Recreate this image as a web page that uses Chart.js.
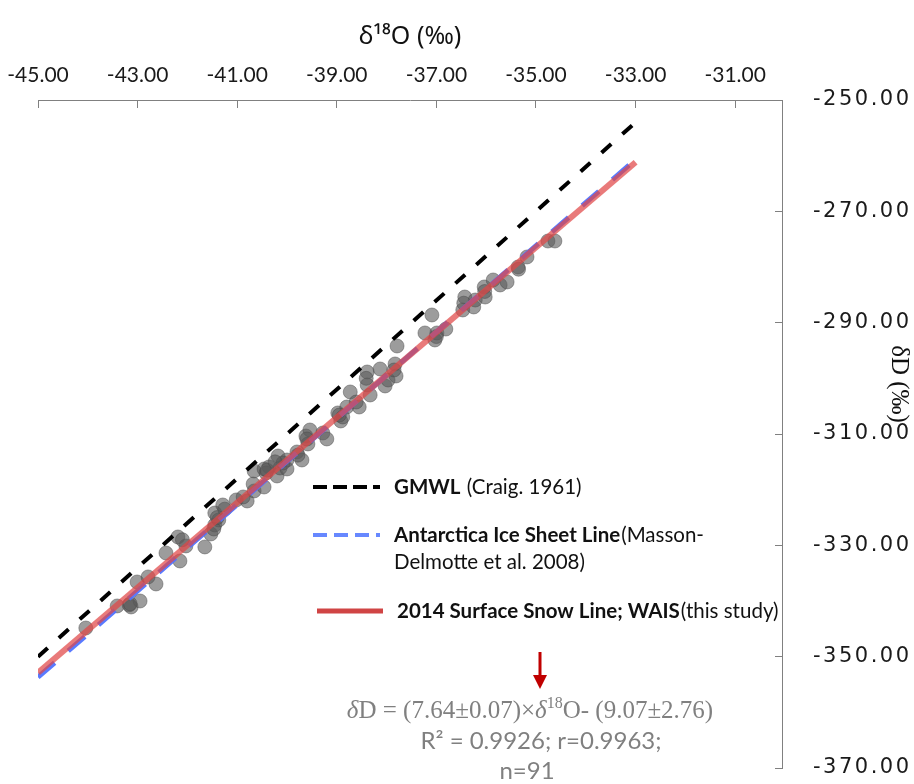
<!DOCTYPE html>
<html>
<head>
<meta charset="utf-8">
<script src="https://cdn.jsdelivr.net/npm/chart.js@4/dist/chart.umd.min.js"></script>
<style>
  html, body { margin: 0; padding: 0; background: #fff; overflow: hidden; }
  #wrap { width: 914px; height: 784px; }
</style>
</head>
<body>
<div id="wrap"><canvas id="c" width="914" height="784"></canvas></div>
<script>
// δ18O / δD of 2014 surface snow samples (‰)
const sampleD18O = [
  -44.04, -43.41, -43.17, -43.13, -42.95, -43.01, -42.79, -42.63, -42.43, -42.19,
  -42.03, -42.15, -41.65, -41.53, -41.45, -41.45, -41.37, -41.47, -41.29, -41.02,
  -40.80, -40.88, -40.66, -40.68, -40.46, -40.66, -40.46, -40.36, -40.42, -40.18,
  -40.20, -40.14, -40.00, -40.00, -40.08, -39.80, -39.70, -39.62, -39.58, -39.54,
  -39.28, -39.20, -38.98, -38.92, -38.80, -38.88, -38.73, -38.55, -38.61, -38.39,
  -38.39, -38.33, -38.13, -38.03, -37.97, -37.83, -37.81, -37.79, -37.23, -37.09,
  -37.03, -36.99, -36.81, -36.43, -36.47, -36.25, -36.22, -36.04, -36.02, -35.86,
  -35.72, -35.58, -35.36, -35.18, -34.76, -34.62, -43.15, -42.10, -41.40, -41.25,
  -40.40, -40.24, -39.78, -39.60, -38.95, -38.41, -37.85, -37.00, -36.45, -36.03,
  -35.35
];
const sampleDD = [
  -344.85, -340.89, -340.71, -341.07, -340.00, -336.58, -335.68, -336.94, -331.37, -328.50,
  -330.11, -332.81, -330.29, -327.96, -326.34, -324.19, -325.44, -327.06, -322.75, -321.85,
  -322.03, -321.31, -320.23, -318.98, -319.52, -316.64, -316.28, -315.92, -317.00, -313.95,
  -317.54, -316.10, -316.28, -314.67, -315.21, -313.23, -314.67, -310.36, -311.79, -309.28,
  -309.82, -310.89, -306.22, -307.66, -305.15, -306.94, -302.45, -305.15, -304.25, -298.86,
  -301.19, -302.99, -298.32, -301.37, -300.30, -297.42, -299.58, -294.19, -291.85, -288.62,
  -293.11, -291.85, -291.14, -285.39, -287.72, -287.18, -285.93, -283.59, -285.39, -282.33,
  -283.23, -282.69, -280.00, -278.20, -275.33, -275.33, -340.50, -329.00, -325.00, -323.50,
  -316.50, -315.00, -313.80, -310.90, -306.60, -300.00, -298.50, -292.50, -286.50, -284.40,
  -280.40
];

// Reference lines, end points at δ18O = -45 and -33
const lineD18O = [-45, -33];
const gmwlDD = [-350.00, -254.00];        // δD = 8 δ18O + 10
const antarcticaDD = [-353.68, -260.68];  // δD = 7.75 δ18O - 4.93
const wais2014DD = [-352.87, -261.19];    // δD = 7.64 δ18O - 9.07

// Axis ticks
const xTicks = [-45, -43, -41, -39, -37, -35, -33, -31];
const xTickLabels = ['-45.00', '-43.00', '-41.00', '-39.00', '-37.00', '-35.00', '-33.00', '-31.00'];
const yTicks = [-370, -350, -330, -310, -290, -270, -250];
const yTickLabels = ['-370.00', '-350.00', '-330.00', '-310.00', '-290.00', '-270.00', '-250.00'];

const toPoints = (xs, ys) => xs.map((x, i) => ({ x, y: ys[i] }));

// Legend and equation annotation drawn on top of the plot
const annotations = {
  id: 'annotations',
  afterDraw(chart) {
    const ctx = chart.ctx;
    ctx.save();
    ctx.textBaseline = 'middle';
    ctx.textAlign = 'left';

    const item = (y, x0, x1, color, width, dash, boldText, plainText, extraLine) => {
      ctx.beginPath();
      ctx.setLineDash(dash);
      ctx.strokeStyle = color;
      ctx.lineWidth = width;
      ctx.moveTo(x0, y);
      ctx.lineTo(x1, y);
      ctx.stroke();
      ctx.setLineDash([]);
      ctx.fillStyle = '#111';
      ctx.font = 'bold 20.5px Lato';
      const tx = x1 + 14;
      ctx.fillText(boldText, tx, y);
      const w = ctx.measureText(boldText).width;
      ctx.font = '20.5px Lato';
      ctx.fillText(plainText, tx + w + 1, y);
      if (extraLine) ctx.fillText(extraLine, tx, y + 27);
    };
    item(487, 313, 380, '#000', 4, [14, 6], 'GMWL', ' (Craig. 1961)');
    item(535, 313, 380, 'rgba(95,130,255,0.95)', 4, [14, 7], 'Antarctica Ice Sheet Line', '(Masson-', 'Delmotte et al. 2008)');
    item(611, 317, 383, '#d04444', 5, [], '2014 Surface Snow Line; WAIS', '(this study)');

    // arrow pointing to the fitted line
    ctx.strokeStyle = '#c00000';
    ctx.fillStyle = '#c00000';
    ctx.lineWidth = 3;
    ctx.beginPath();
    ctx.moveTo(540, 652);
    ctx.lineTo(540, 677);
    ctx.stroke();
    ctx.beginPath();
    ctx.moveTo(533, 675);
    ctx.lineTo(547, 675);
    ctx.lineTo(540, 689);
    ctx.closePath();
    ctx.fill();

    // regression equation
    ctx.fillStyle = '#808080';
    const segs = [
      ['italic 25px "Liberation Serif"', 'δ', 0],
      ['25px "Liberation Serif"', 'D = (7.64±0.07)×', 0],
      ['italic 25px "Liberation Serif"', 'δ', 0],
      ['16px "Liberation Serif"', '18', -7],
      ['25px "Liberation Serif"', 'O- (9.07±2.76)', 0]
    ];
    let total = 0;
    segs.forEach(s => { ctx.font = s[0]; total += ctx.measureText(s[1]).width; });
    let x = 530 - total / 2;
    segs.forEach(s => {
      ctx.font = s[0];
      ctx.fillText(s[1], x, 711 + s[2]);
      x += ctx.measureText(s[1]).width;
    });
    ctx.textAlign = 'center';
    ctx.font = '24px Lato';
    ctx.fillText('R² = 0.9926; r=0.9963;', 541, 741);
    ctx.fillText('n=91', 527, 771);
    ctx.restore();
  }
};

const lineStyle = { showLine: true, pointRadius: 0, fill: false, tension: 0 };

new Chart(document.getElementById('c'), {
  type: 'scatter',
  data: {
    datasets: [
      {
        label: 'Surface snow samples',
        data: toPoints(sampleD18O, sampleDD),
        pointRadius: 7,
        pointHoverRadius: 7,
        backgroundColor: 'rgba(90,90,90,0.6)',
        borderColor: 'rgba(70,70,70,0.45)',
        borderWidth: 1,
        order: 4
      },
      Object.assign({
        label: 'GMWL',
        data: toPoints(lineD18O, gmwlDD),
        borderColor: '#000',
        borderWidth: 4,
        borderDash: [13, 15],
        order: 3
      }, lineStyle),
      Object.assign({
        label: 'Antarctica Ice Sheet Line',
        data: toPoints(lineD18O, antarcticaDD),
        borderColor: 'rgba(80,115,255,0.95)',
        borderWidth: 5,
        borderDash: [22, 18],
        order: 2
      }, lineStyle),
      Object.assign({
        label: '2014 Surface Snow Line; WAIS',
        data: toPoints(lineD18O, wais2014DD),
        borderColor: 'rgba(225,70,70,0.72)',
        borderWidth: 6,
        order: 1
      }, lineStyle)
    ]
  },
  options: {
    responsive: false,
    animation: false,
    devicePixelRatio: 1,
    layout: { padding: { left: 38, right: 0, top: 0, bottom: 16 } },
    plugins: { legend: { display: false }, tooltip: { enabled: false } },
    scales: {
      x: {
        type: 'linear',
        position: 'top',
        min: -45,
        max: -30.06,
        afterBuildTicks: s => { s.ticks = xTicks.map(v => ({ value: v })); },
        afterFit: s => { s.height = 100; s.paddingLeft = 0; s.paddingRight = 0; },
        border: { display: true, color: '#808080', width: 1 },
        grid: { drawOnChartArea: false, drawTicks: true, tickLength: -8, color: '#808080' },
        ticks: {
          autoSkip: false, maxRotation: 0, padding: 20, color: '#1a1a1a',
          font: { family: 'Lato', size: 21 },
          callback: (v, i) => xTickLabels[i]
        },
        title: {
          display: true, text: 'δ¹⁸O (‰)', color: '#111',
          font: { family: 'Noto Sans', size: 25 },
          padding: { top: 22, bottom: 0 }
        }
      },
      y: {
        type: 'linear',
        position: 'right',
        min: -370,
        max: -250,
        afterBuildTicks: s => { s.ticks = yTicks.map(v => ({ value: v })); },
        afterFit: s => {
          s.width = 132;
          s.paddingTop = 0;
          s.paddingBottom = 0;
          if (!s._spacedLabels) {
            // wide-set tick labels on the δD axis
            const drawLabels = s.drawLabels;
            s.drawLabels = function (area) {
              const c = this.ctx;
              c.save();
              c.letterSpacing = '2.5px';
              drawLabels.call(this, area);
              c.restore();
            };
            s._spacedLabels = true;
          }
        },
        border: { display: true, color: '#808080', width: 1 },
        grid: { drawOnChartArea: false, drawTicks: true, tickLength: -7, color: '#808080' },
        ticks: {
          autoSkip: false, padding: 38, color: '#1a1a1a',
          font: { family: 'DejaVu Sans', size: 21 },
          callback: (v, i) => yTickLabels[i]
        },
        title: {
          display: true, text: 'δD (‰)\u2002\u2002\u2002\u2002\u2002\u2002\u2002\u2002', color: '#111',
          font: { family: 'Liberation Serif', size: 25 },
          padding: { top: 0, bottom: 0 }
        }
      }
    }
  },
  plugins: [annotations]
});
</script>
</body>
</html>
